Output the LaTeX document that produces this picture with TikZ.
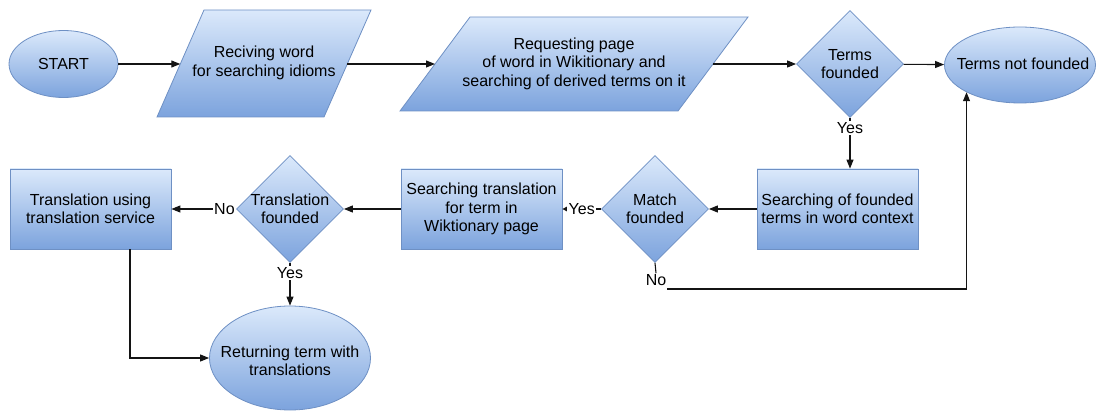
\documentclass[tikz,border=0pt]{standalone}
\usepackage{fontspec}
\setmainfont{Liberation Sans}
\usetikzlibrary{shapes.geometric,arrows.meta}
\definecolor{topc}{RGB}{219,233,251}
\definecolor{botc}{RGB}{124,163,221}
\definecolor{edgec}{RGB}{110,144,196}
\definecolor{linec}{RGB}{20,20,20}
\begin{document}
\begin{tikzpicture}[x=1pt,y=-1pt, font=\fontsize{16}{18.5}\selectfont,
 shaded/.style={top color=topc, bottom color=botc, draw=edgec, line width=0.8pt},
 procbox/.style={shaded, rectangle, minimum width=161pt, minimum height=80pt, inner sep=0pt, align=center},
 term/.style={shaded, ellipse, inner sep=0pt},
 decision/.style={shaded, diamond, minimum width=107pt, minimum height=107pt, inner sep=0pt},
 txt/.style={align=center, inner sep=0pt},
 conn/.style={draw=linec, line width=1.1pt, -{Triangle[length=9pt,width=7pt]}},
 plain/.style={draw=linec, line width=1.1pt},
 lab/.style={fill=white, inner sep=1.5pt}]
\useasboundingbox (0,0) rectangle (1102,414);
\coordinate (tsx) at (130,0);
\coordinate (nox) at (0,289);
% parallelograms
\path[shaded] (157,117) -- (204,10) -- (371,10) -- (324,117) -- cycle;
\coordinate (p1w) at (180.3,64);
\coordinate (p1e) at (347.3,64);
\node[txt] (p1t) at (264,63) {Reciving word\\for searching idioms};
\path[shaded] (400,111) -- (470,17) -- (748,17) -- (678,111) -- cycle;
\coordinate (p2w) at (435,64);
\coordinate (p2e) at (713,64);
\node[txt] (p2t) at (574,63.5) {Requesting page\\of word in Wikitionary and\\searching of derived terms on it};
\node[term, minimum width=109pt, minimum height=67pt] (start) at (63.5,64) {};
\node[txt] (startt) at (start) {START};
\node[decision] (tf) at (850,64) {};
\node[txt] (tft) at (tf) {Terms\\founded};
\node[term, minimum width=151pt, minimum height=76pt] (tnf) at (1020,65) {};
\node[txt] (tnft) at (1023,64) {Terms not founded};
\node[procbox] (sb) at (837.5,209) {Searching of founded\\terms in word context};
\node[decision] (mf) at (655,209) {};
\node[txt] (mft) at (mf) {Match\\founded};
\node[procbox] (st) at (481.5,209) {Searching translation\\for term in\\Wiktionary page};
\node[decision] (trf) at (290,209) {};
\node[txt] (trft) at (trf) {Translation\\founded};
\node[procbox] (ts) at (90.5,209) {Translation using\\translation service};
\node[term, minimum width=161pt, minimum height=104pt] (ret) at (290,358) {};
\node[txt] (rett) at (290,361) {Returning term with\\translations};
\node[lab, inner sep=1pt] (nolab) at (656,280) {No};
\draw[conn] (start) -- (p1w);
\draw[conn] (p1e) -- (p2w);
\draw[conn] (p2e) -- (tf);
\draw[conn] (tf) -- (tnf);
\draw[conn] (tf.south) -- node[lab,pos=0.2]{Yes} (tf.south |- sb.north);
\draw[conn] (sb) -- (mf);
\draw[conn, -{Triangle[length=5pt,width=5pt]}] (mf) -- node[lab]{Yes} (st);
\draw[conn] (st) -- (trf);
\draw[conn] (trf) -- node[lab,pos=0.18]{No} (ts);
\draw[conn] (trf) -- node[lab,pos=0.24]{Yes} (ret);
\draw[conn] (ts.south -| tsx) |- (ret);
\draw[plain] (mf.south) -- (nolab.north);
\draw[conn] (nolab.east |- nox) -| (tnf.207);
\end{tikzpicture}
\end{document}
